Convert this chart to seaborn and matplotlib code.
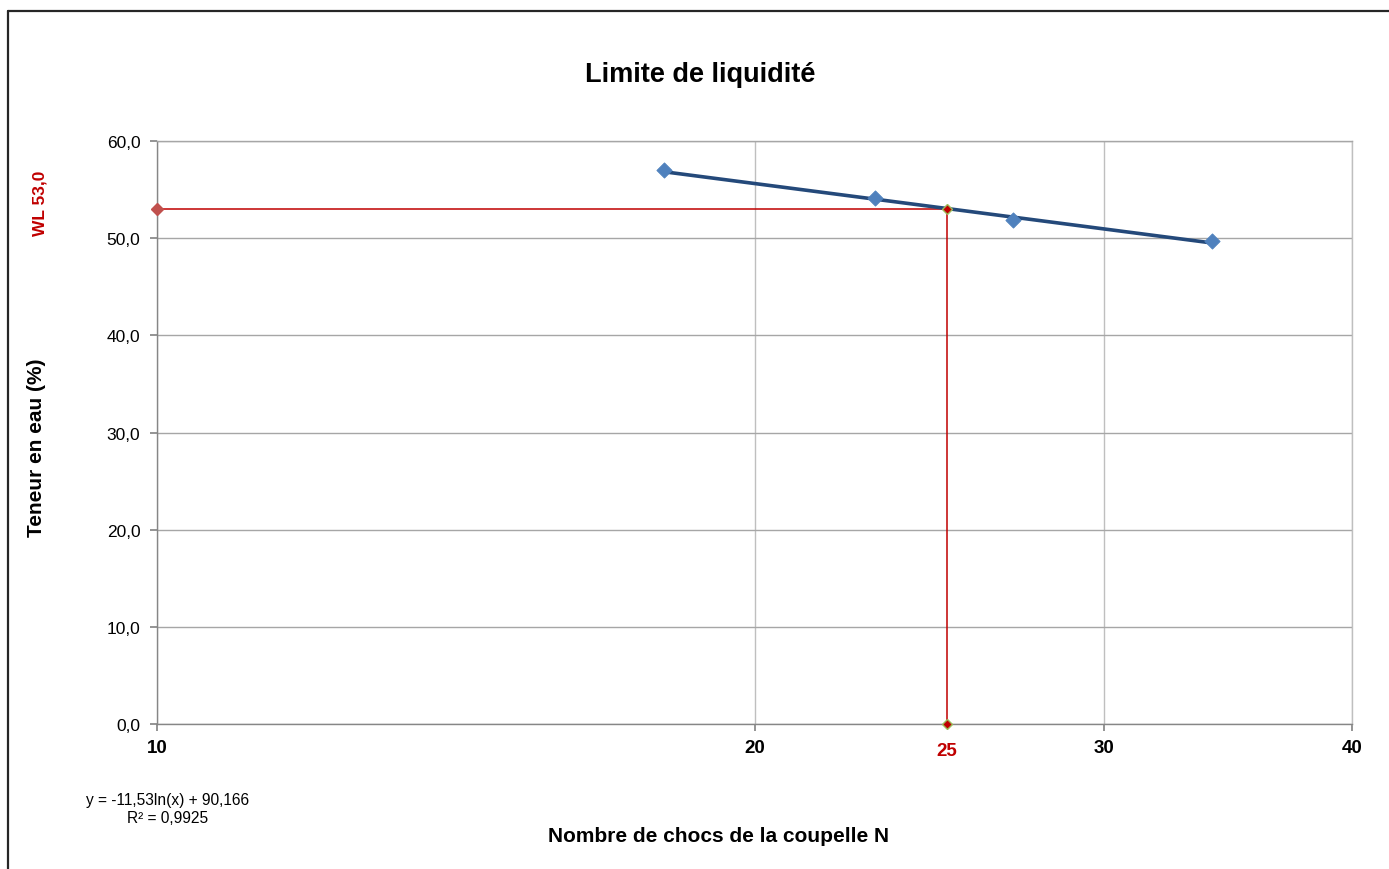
import numpy as np
import pandas as pd
import matplotlib.pyplot as plt
import seaborn as sns
from matplotlib.ticker import FixedLocator, NullLocator, FuncFormatter
from matplotlib.lines import Line2D
from matplotlib.transforms import blended_transform_factory

sns.set_theme(style="white")
plt.rcParams["font.family"] = ["Liberation Sans", "DejaVu Sans"]
plt.rcParams["text.color"] = "black"
plt.rcParams["xtick.color"] = "black"
plt.rcParams["ytick.color"] = "black"

# ---------------------------------------------------------
# Data
# ---------------------------------------------------------
chocs = [18, 23, 27, 34]                 # nombre de chocs N
teneur = [57.0, 54.1, 51.9, 49.7]        # teneur en eau (%)
pente = -11.53                           # trendline y = a ln(x) + b
origine = 90.166
r2 = 0.9925
n_ref = 25
wl = 53.0
x_ticks = [10, 20, 30, 40]
y_ticks = [0, 10, 20, 30, 40, 50, 60]

points = pd.DataFrame({"N": chocs, "W": teneur})
x_fit = np.linspace(min(chocs), max(chocs), 60)
fit = pd.DataFrame({"N": x_fit, "W": pente * np.log(x_fit) + origine})

RED = "#C00000"
W, H = 1389, 870

fig = plt.figure(figsize=(W / 100, H / 100), dpi=100)
ax = fig.add_axes([157 / W, (H - 725) / H, 1195 / W, 583 / H])

ax.set_xscale("log")
ax.set_xlim(x_ticks[0], x_ticks[-1])
ax.set_ylim(y_ticks[0], y_ticks[-1])

# grid
ax.set_axisbelow(True)
ax.yaxis.grid(True, color="#A6A6A6", lw=1)
ax.xaxis.grid(True, color="#BFBFBF", lw=1)

# WL construction lines
ax.plot([x_ticks[0], n_ref], [wl, wl], color=RED, lw=1.1, zorder=2)
ax.plot([n_ref, n_ref], [y_ticks[0], wl], color=RED, lw=1.1, zorder=2)

# trendline + points
sns.lineplot(data=fit, x="N", y="W", color="#24497A", lw=2.6, ax=ax, zorder=3)
sns.scatterplot(data=points, x="N", y="W", marker="D", s=60, color="#4F81BD",
                edgecolor="#4F81BD", ax=ax, zorder=4)

# markers on the WL construction
ax.plot([x_ticks[0]], [wl], marker="D", ms=6, color="#C0504D", mec="#C0504D",
        clip_on=False, zorder=5)
ax.plot([n_ref], [wl], marker="D", ms=5, color=RED, mec="#9BBB59", mew=1,
        clip_on=False, zorder=5)
ax.plot([n_ref], [y_ticks[0]], marker="D", ms=5, color=RED, mec="#9BBB59", mew=1,
        clip_on=False, zorder=5)

# axes styling
ax.spines["top"].set_color("#A6A6A6")
ax.spines["right"].set_color("#BFBFBF")
for s in ["left", "bottom"]:
    ax.spines[s].set_color("#868686")
for s in ax.spines:
    ax.spines[s].set_linewidth(1)

ax.xaxis.set_major_locator(FixedLocator(x_ticks))
ax.xaxis.set_minor_locator(NullLocator())
ax.xaxis.set_major_formatter(FuncFormatter(lambda v, p: f"{int(v)}"))
ax.yaxis.set_major_locator(FixedLocator(y_ticks))
ax.yaxis.set_major_formatter(FuncFormatter(lambda v, p: f"{v:.1f}".replace(".", ",")))
ax.tick_params(axis="both", which="major", direction="out", length=5,
               color="#868686", bottom=True, left=True)
ax.tick_params(axis="x", labelsize=13.5, pad=6, labelcolor="black")
ax.tick_params(axis="y", labelsize=12.5, pad=7, labelcolor="black")
for lbl in ax.get_xticklabels():
    lbl.set_fontweight("bold")
ax.set_xlabel("")
ax.set_ylabel("")

# red "25" under the axis
trans = blended_transform_factory(ax.transData, ax.transAxes)
ax.text(n_ref, -0.045, f"{n_ref}", transform=trans, ha="center", va="center",
        color=RED, fontsize=13.5, fontweight="bold")

# texts
fig.text(700 / W, 1 - 75 / H, "Limite de liquidité", ha="center", va="center",
         fontsize=19.5, fontweight="bold")
fig.text(719 / W, 1 - 837 / H, "Nombre de chocs de la coupelle N", ha="center",
         va="center", fontsize=15, fontweight="bold")
fig.text(37 / W, 1 - 448 / H, "Teneur en eau (%)", ha="center", va="center",
         rotation=90, fontsize=15, fontweight="bold")
fig.text(40 / W, 1 - 203 / H, f"WL {wl:.1f}".replace(".", ","), ha="center",
         va="center", rotation=90, fontsize=12.5, fontweight="bold", color=RED)

eq = f"y = {pente:.2f}ln(x) + {origine:.3f}".replace(".", ",")
fig.text(168 / W, 1 - 801 / H, eq, ha="center", va="center", fontsize=11.2)
fig.text(168 / W, 1 - 819 / H, f"R² = {r2:.4f}".replace(".", ","), ha="center",
         va="center", fontsize=11.2)

# outer chart border (cut by image edges on right and bottom)
fig.add_artist(Line2D([8 / W, 1.01], [1 - 12 / H, 1 - 12 / H], color="#262626",
                      lw=1.6, transform=fig.transFigure))
fig.add_artist(Line2D([8 / W, 8 / W], [1 - 12 / H, -0.01], color="#262626",
                      lw=1.6, transform=fig.transFigure))

fig.savefig("out.png", dpi=100)
